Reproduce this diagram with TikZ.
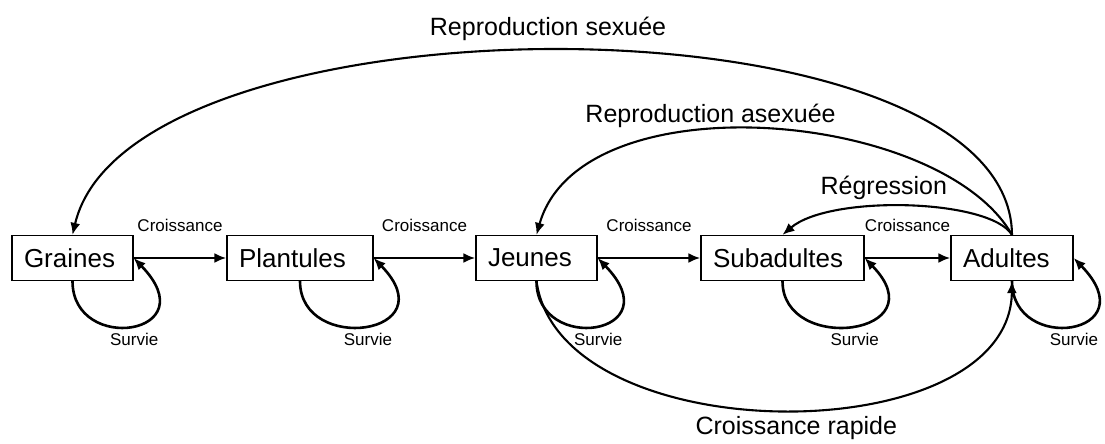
\documentclass[tikz,border=0pt]{standalone}
\usepackage{fontspec}
\setmainfont{Liberation Sans}
\usetikzlibrary{arrows.meta,positioning}

\begin{document}
\begin{tikzpicture}[
    x=1pt, y=-1pt,
    stage/.style={draw, line width=1.3pt, rectangle, minimum height=45pt, inner xsep=12pt, align=left, font=\fontsize{26}{30}\selectfont},
    small/.style={inner sep=0pt, font=\fontsize{17}{20}\selectfont},
    big/.style={inner sep=0pt, font=\fontsize{25}{29}\selectfont},
    arrow/.style={-{Latex[length=12pt,width=10pt]}, line width=2.6pt},
    arc/.style={-{Latex[length=12pt,width=10pt]}, line width=2.1pt}
]
\useasboundingbox (0,0) rectangle (1105,444);

% Stages
\node[stage, text width=97pt] (graines) at (72.5,258) {Graines};
\node[stage, text width=122pt] (plantules) at (300,258) {Plantules};
\node[stage, text width=97pt] (jeunes) at (536.5,258) {Jeunes};
\node[stage, text width=139pt] (subadultes) at (782.5,258) {Subadultes};
\node[stage, text width=98pt] (adultes) at (1012,258) {Adultes};

% Croissance
\foreach \a/\b in {graines/plantules, plantules/jeunes, jeunes/subadultes, subadultes/adultes}
    \draw[arrow] (\a.east) -- node[small, above=25pt] {Croissance} (\b.west);

% Survie
\foreach \n in {graines, plantules, jeunes, subadultes, adultes}
    \draw[arrow] (\n.south) .. controls +(0,74) and +(75,77) .. (\n.east)
        node[small, pos=.5, below=6pt, xshift=3pt] {Survie};

% Reproduction and regression
\draw[arc] (adultes.north) .. controls +(-2,-246) and +(57.5,-246) .. (graines.north)
    node[big, pos=.5, above=9pt, xshift=-15pt] {Reproduction sexuée};
\draw[arc] (adultes.north) .. controls +(-72,-126) and +(43.5,-155.5) .. (jeunes.north)
    node[big, pos=.5, above=1pt, xshift=-53pt] {Reproduction asexuée};
\draw[arc] (adultes.north) .. controls +(-22,-36) and +(47.5,-40.5) .. (subadultes.north)
    node[big, pos=.5, above=5pt, xshift=-23pt] {Régression};

% Croissance rapide
\draw[arc] (jeunes.south) .. controls +(23.5,172) and +(-2,172) .. (adultes.south)
    node[big, pos=.5, below=5pt, xshift=14pt] {Croissance rapide};

\end{tikzpicture}
\end{document}
